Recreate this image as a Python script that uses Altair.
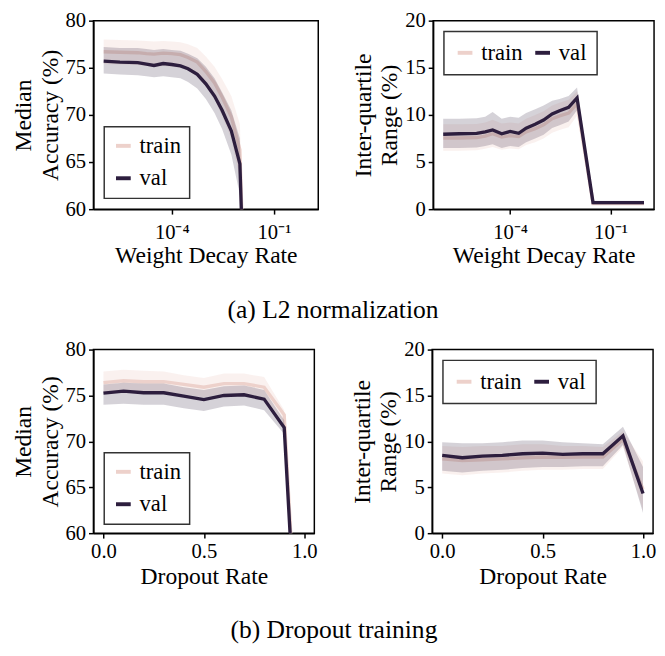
import altair as alt
import pandas as pd

FONT = "Liberation Serif"
SERIES = ["train", "val"]
COLORS = ["#edd1cb", "#2d1e3e"]
BAND_OPACITY = [0.3, 0.2]

# ---------------- (a) L2 normalization: weight decay rate (log axis) ----------------
wd_rate = [1e-6, 3e-6, 1e-5, 1.8e-5, 3e-5, 5.6e-5, 1e-4, 1.8e-4, 3e-4, 5.6e-4,
           1e-3, 1.8e-3, 3e-3, 5.6e-3, 1e-2, 3e-2, 1e-1, 3e-1, 1.0]

wd_acc_train = [76.7, 76.65, 76.6, 76.5, 76.45, 76.55, 76.5, 76.4, 76.1, 75.6,
                74.6, 73.4, 71.9, 69.8, 66.3, 10, 10, 10, 10]
wd_acc_train_lo = [75.4, 75.35, 75.3, 75.2, 75.1, 75.2, 75.1, 75.0, 74.7, 74.1,
                   73.0, 71.6, 69.9, 67.5, 63.2, 9, 9, 9, 9]
wd_acc_train_hi = [78.0, 77.95, 77.9, 77.85, 77.8, 77.85, 77.8, 77.7, 77.5, 77.1,
                   76.2, 75.1, 73.8, 72.0, 69.0, 11, 11, 11, 11]
wd_acc_val = [75.7, 75.6, 75.55, 75.4, 75.25, 75.45, 75.35, 75.2, 74.9, 74.3,
              73.3, 72.0, 70.5, 68.3, 64.8, 10, 10, 10, 10]
wd_acc_val_lo = [74.4, 74.3, 74.2, 74.1, 74.0, 74.1, 74.0, 73.9, 73.5, 72.8,
                 71.7, 70.2, 68.5, 65.8, 61.5, 9, 9, 9, 9]
wd_acc_val_hi = [77.2, 77.1, 77.1, 77.0, 76.9, 77.0, 76.9, 76.8, 76.5, 76.0,
                 75.1, 73.9, 72.4, 70.5, 67.5, 11, 11, 11, 11]

wd_iqr_train = [7.55, 7.55, 7.6, 7.75, 8.0, 7.65, 7.8, 7.7, 8.2, 8.55,
                8.95, 9.6, 9.9, 10.2, 11.2, 0.6, 0.6, 0.6, 0.6]
wd_iqr_train_lo = [6.2, 6.2, 6.25, 6.4, 6.6, 6.3, 6.45, 6.35, 6.8, 7.1,
                   7.5, 8.1, 8.4, 8.7, 9.9, 0.45, 0.45, 0.45, 0.45]
wd_iqr_train_hi = [9.0, 9.0, 9.05, 9.2, 9.5, 9.1, 9.2, 9.1, 9.6, 10.0,
                   10.4, 11.0, 11.3, 11.6, 12.5, 0.75, 0.75, 0.75, 0.75]
wd_iqr_val = [7.95, 8.0, 8.05, 8.2, 8.4, 8.0, 8.25, 8.05, 8.6, 9.0,
              9.45, 10.1, 10.45, 10.8, 11.8, 0.7, 0.7, 0.7, 0.7]
wd_iqr_val_lo = [6.5, 6.5, 6.55, 6.7, 6.9, 6.5, 6.7, 6.6, 7.1, 7.5,
                 7.9, 8.6, 8.9, 9.3, 10.5, 0.5, 0.5, 0.5, 0.5]
wd_iqr_val_hi = [9.6, 9.6, 9.65, 9.8, 10.3, 9.6, 9.8, 9.7, 10.2, 10.6,
                 11.0, 11.5, 11.7, 12.0, 12.9, 0.9, 0.9, 0.9, 0.9]

# ---------------- (b) Dropout training ----------------
dr_rate = [0.0, 0.1, 0.2, 0.3, 0.4, 0.5, 0.6, 0.7, 0.8, 0.9, 1.0]

dr_acc_train = [76.4, 76.6, 76.5, 76.5, 76.2, 75.9, 76.3, 76.3, 75.9, 72.9, 33]
dr_acc_train_lo = [75.3, 75.5, 75.4, 75.4, 75.1, 74.8, 75.2, 75.2, 74.8, 72.0, 27]
dr_acc_train_hi = [77.6, 77.8, 77.7, 77.6, 77.2, 76.9, 77.4, 77.4, 77.0, 73.4, 40]
dr_acc_val = [75.26, 75.47, 75.3, 75.3, 74.94, 74.55, 75.0, 75.08, 74.6, 71.5, 32]
dr_acc_val_lo = [74.0, 74.1, 74.0, 74.0, 73.6, 73.3, 73.8, 73.9, 73.4, 70.8, 25]
dr_acc_val_hi = [76.2, 76.4, 76.3, 76.3, 75.9, 75.6, 76.0, 76.1, 75.6, 72.3, 40]

dr_iqr_train = [8.1, 7.9, 8.0, 8.1, 8.2, 8.3, 8.25, 8.3, 8.3, 10.2, 4.8]
dr_iqr_train_lo = [6.5, 6.3, 6.5, 6.6, 6.8, 6.9, 6.9, 7.0, 7.0, 9.4, 2.5]
dr_iqr_train_hi = [9.5, 9.4, 9.5, 9.5, 9.7, 9.7, 9.5, 9.5, 9.4, 11.1, 7.8]
dr_iqr_val = [8.48, 8.22, 8.4, 8.48, 8.65, 8.72, 8.58, 8.65, 8.65, 10.6, 4.33]
dr_iqr_val_lo = [6.8, 6.6, 6.8, 6.9, 7.1, 7.2, 7.2, 7.3, 7.3, 9.6, 2.2]
dr_iqr_val_hi = [9.9, 9.8, 9.8, 9.9, 10.1, 10.1, 9.9, 9.8, 9.7, 11.6, 7.2]

acc_ticks = [60, 65, 70, 75, 80]
iqr_ticks = [0, 5, 10, 15, 20]
wd_ticks = [1e-4, 1e-1]
dr_ticks = [0.0, 0.5, 1.0]


def panel(xs, series_vals, x_scale, x_axis, y_scale, y_axis, legend, w, h):
    rows = []
    for s, (m, lo, hi) in zip(SERIES, series_vals):
        for xv, a, b, c in zip(xs, m, lo, hi):
            rows.append({"x": xv, "series": s, "mid": a, "lo": b, "hi": c})
    df = pd.DataFrame(rows)
    base = alt.Chart(df)
    X = alt.X("x:Q", scale=x_scale, axis=x_axis)
    layers = []
    for s, col, op in zip(SERIES, COLORS, BAND_OPACITY):
        area = base.transform_filter(alt.datum.series == s).mark_area(
            opacity=op, clip=True, color=col
        ).encode(
            x=X,
            y=alt.Y("lo:Q", scale=y_scale, axis=y_axis),
            y2="hi:Q",
        )
        line = base.transform_filter(alt.datum.series == s).mark_line(
            strokeWidth=3.4, clip=True
        ).encode(
            x=X,
            y=alt.Y("mid:Q", scale=y_scale, axis=y_axis),
            color=alt.Color("series:N", scale=alt.Scale(domain=SERIES, range=COLORS), legend=legend),
        )
        layers += [area, line]
    return alt.layer(*layers).properties(width=w, height=h)


def legend_v(lx, ly):
    return alt.Legend(title=None, orient="none", legendX=lx, legendY=ly, direction="vertical",
                      symbolType="stroke", symbolStrokeWidth=4, symbolSize=225,
                      labelFontSize=23, labelFont=FONT, labelColor="black",
                      strokeColor="#333333", fillColor="white", padding=8,
                      rowPadding=9, labelOffset=5)


def legend_h(lx, ly):
    return alt.Legend(title=None, orient="none", legendX=lx, legendY=ly, direction="horizontal",
                      symbolType="stroke", symbolStrokeWidth=4, symbolSize=225,
                      labelFontSize=23, labelFont=FONT, labelColor="black",
                      strokeColor="#333333", fillColor="white", padding=10,
                      columnPadding=4, labelOffset=5)


wd_scale = alt.Scale(type="log", domain=[5.0e-7, 2.0], nice=False)
wd_axis = alt.Axis(title="Weight Decay Rate", values=wd_ticks,
                   labelExpr="datum.value < 0.001 ? '10⁻⁴' : '10⁻¹'",
                   labelPadding=8, titlePadding=1)
dr_scale = alt.Scale(domain=[-0.05, 1.05], nice=False, zero=False)
dr_axis = alt.Axis(title="Dropout Rate", values=dr_ticks, format=".1f", titlePadding=3)

acc_scale = alt.Scale(domain=[60, 80], nice=False, zero=False)
acc_axis = alt.Axis(title=["Median", "Accuracy (%)"], values=acc_ticks)
iqr_scale = alt.Scale(domain=[0, 20], nice=False)
iqr_axis = alt.Axis(title=["Inter-quartile", "Range (%)"], values=iqr_ticks)

p1 = panel(wd_rate,
           [(wd_acc_train, wd_acc_train_lo, wd_acc_train_hi),
            (wd_acc_val, wd_acc_val_lo, wd_acc_val_hi)],
           wd_scale, wd_axis, acc_scale, acc_axis, legend_v(11, 108), 229, 192)
p2 = panel(wd_rate,
           [(wd_iqr_train, wd_iqr_train_lo, wd_iqr_train_hi),
            (wd_iqr_val, wd_iqr_val_lo, wd_iqr_val_hi)],
           wd_scale, wd_axis, iqr_scale, iqr_axis, legend_h(11, 11), 225, 192)
p3 = panel(dr_rate,
           [(dr_acc_train, dr_acc_train_lo, dr_acc_train_hi),
            (dr_acc_val, dr_acc_val_lo, dr_acc_val_hi)],
           dr_scale, dr_axis, acc_scale, acc_axis, legend_v(11, 105), 225, 187)
p4 = panel(dr_rate,
           [(dr_iqr_train, dr_iqr_train_lo, dr_iqr_train_hi),
            (dr_iqr_val, dr_iqr_val_lo, dr_iqr_val_hi)],
           dr_scale, dr_axis, iqr_scale, iqr_axis, legend_h(11, 11), 225, 187)


def row(a, b, caption, offset):
    return alt.hconcat(a, b, spacing=32).resolve_scale(
        color="independent"
    ).resolve_legend(color="independent").properties(
        title=alt.TitleParams(caption, orient="bottom", anchor="middle", frame="bounds",
                              fontSize=26, font=FONT, fontWeight="normal", color="black",
                              offset=offset)
    )


chart = alt.vconcat(
    row(p1, p2, "(a) L2 normalization", 30),
    row(p3, p4, "(b) Dropout training", 29),
    spacing=15,
).resolve_scale(color="independent").resolve_legend(
    color="independent"
).properties(
    padding={"left": 3, "top": -5, "right": 0, "bottom": -3}
).configure(
    font=FONT
).configure_axis(
    labelFont=FONT, titleFont=FONT, labelFontSize=21, titleFontSize=24,
    titleFontWeight="normal", labelColor="black", titleColor="black",
    domainColor="black", domainWidth=1.5, tickColor="black", tickWidth=1.5,
    tickSize=5, grid=False, labelFlush=False, labelOverlap=False,
    labelPadding=3, titlePadding=3, titleLineHeight=27
).configure_view(
    stroke="black", strokeWidth=1.5
).configure_legend(
    strokeWidth=1.5, cornerRadius=0
)

chart.save("out.html", embed_options={"renderer": "svg", "actions": False})
